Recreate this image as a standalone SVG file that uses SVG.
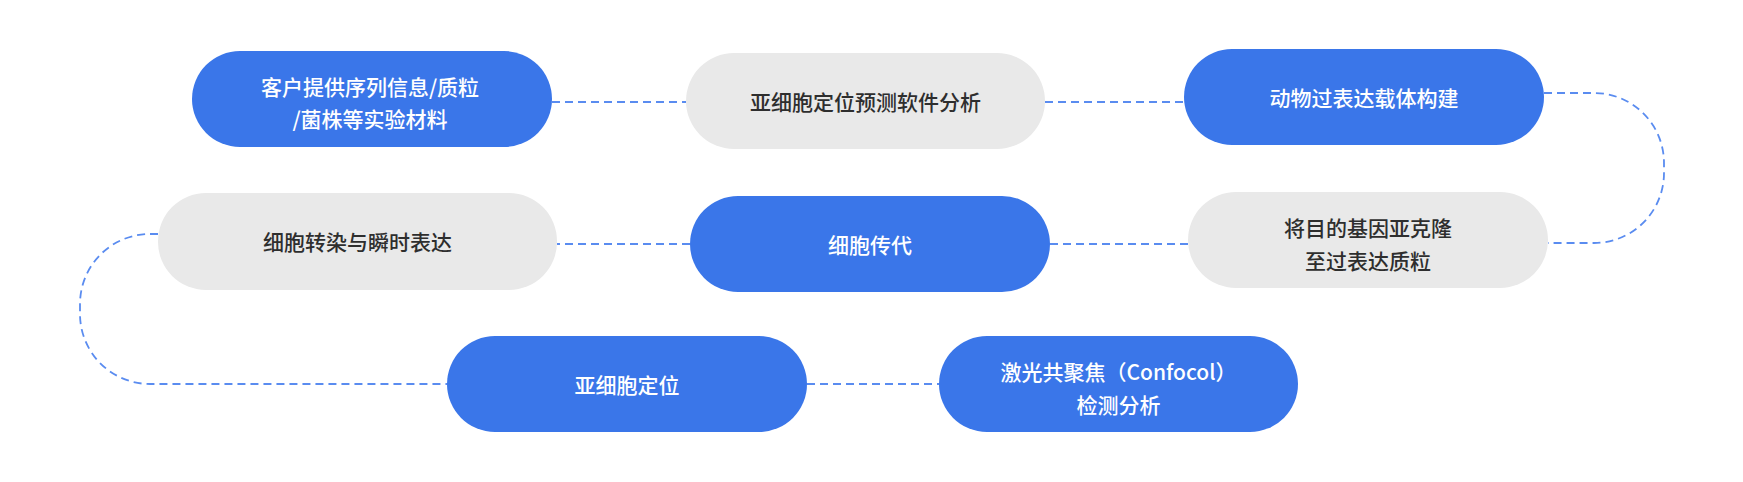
<svg xmlns="http://www.w3.org/2000/svg" width="1743" height="482" viewBox="0 0 1743 482">
<style>
.blue{fill:#3a76e9}
.grey{fill:#e9e9e9}
.t{font-family:"Noto Sans CJK SC","Noto Sans",sans-serif;font-size:21px;font-weight:500;text-anchor:middle}
.tw{fill:#ffffff}
.td{fill:#2e2e2e}
.c{fill:none;stroke:#5a8cf0;stroke-width:1.8;stroke-dasharray:8 5}
</style>
<rect width="1743" height="482" fill="#ffffff"/>
<g id="connectors">
<path class="c" d="M552,102 H686"/>
<path class="c" d="M1045,102 H1184"/>
<path class="c" d="M1544,93 H1594 A70,70 0 0 1 1664,163 V173 A70,70 0 0 1 1594,243 H1548"/>
<path class="c" d="M1188,244 H1050"/>
<path class="c" d="M690,244 H557"/>
<path class="c" d="M158,234 H150 A70,70 0 0 0 80,304 V314 A70,70 0 0 0 150,384 H447"/>
<path class="c" d="M807,384 H939"/>
</g>
<g id="node1">
<rect class="blue" x="192" y="51" width="360" height="96" rx="48"/>
<text class="t tw" x="370" y="94.5">客户提供序列信息/质粒</text>
<text class="t tw" x="370" y="126.5">/菌株等实验材料</text>
</g>
<g id="node2">
<rect class="grey" x="686" y="53" width="359" height="96" rx="48"/>
<text class="t td" x="865.5" y="110">亚细胞定位预测软件分析</text>
</g>
<g id="node3">
<rect class="blue" x="1184" y="49" width="360" height="96" rx="48"/>
<text class="t tw" x="1364" y="106">动物过表达载体构建</text>
</g>
<g id="node4">
<rect class="grey" x="158" y="193" width="399" height="97" rx="48"/>
<text class="t td" x="357.5" y="250">细胞转染与瞬时表达</text>
</g>
<g id="node5">
<rect class="blue" x="690" y="196" width="360" height="96" rx="48"/>
<text class="t tw" x="870" y="253">细胞传代</text>
</g>
<g id="node6">
<rect class="grey" x="1188" y="192" width="360" height="96" rx="48"/>
<text class="t td" x="1368" y="236">将目的基因亚克隆</text>
<text class="t td" x="1368" y="269">至过表达质粒</text>
</g>
<g id="node7">
<rect class="blue" x="447" y="336" width="360" height="96" rx="48"/>
<text class="t tw" x="627" y="393">亚细胞定位</text>
</g>
<g id="node8">
<rect class="blue" x="939" y="336" width="359" height="96" rx="48"/>
<text class="t tw" x="1118.5" y="380">激光共聚焦（Confocol）</text>
<text class="t tw" x="1118.5" y="413">检测分析</text>
</g>
</svg>
